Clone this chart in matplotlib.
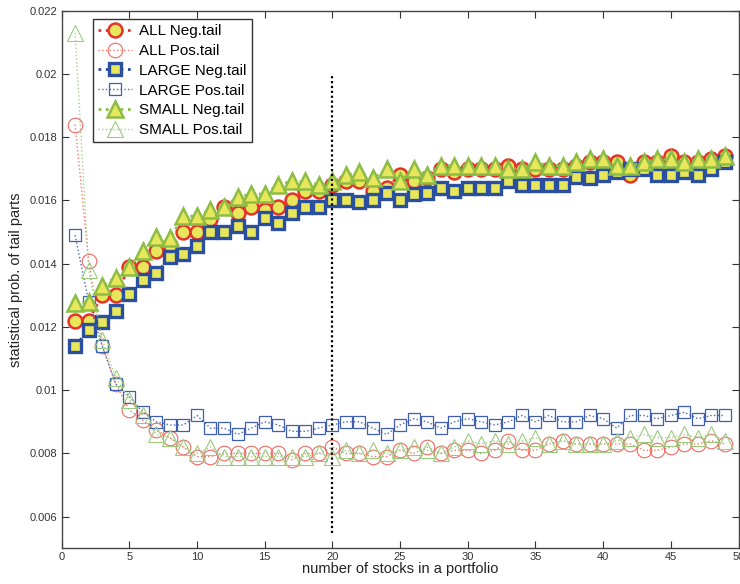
import matplotlib.pyplot as plt
import numpy as np

plt.rcParams['font.family'] = ['Liberation Sans', 'DejaVu Sans']

n_stocks = np.arange(1, 50)

all_neg = [0.0122, 0.0122, 0.0130, 0.0130, 0.0139, 0.0139, 0.0144, 0.0146, 0.0150, 0.0150,
           0.0154, 0.0158, 0.0156, 0.0158, 0.0157, 0.0158, 0.0160, 0.0163, 0.0163, 0.0165,
           0.0166, 0.0166, 0.0163, 0.0164, 0.0168, 0.0166, 0.0167, 0.0170, 0.0169, 0.0170,
           0.0170, 0.0170, 0.0171, 0.0170, 0.0170, 0.0170, 0.0170, 0.0171, 0.0172, 0.0172,
           0.0172, 0.0168, 0.0172, 0.0172, 0.0174, 0.0172, 0.0172, 0.0173, 0.0174]
all_pos = [0.0184, 0.0141, 0.0114, 0.0102, 0.00937, 0.00905, 0.00873, 0.0085, 0.0082, 0.0079,
           0.0079, 0.0080, 0.0080, 0.0080, 0.0080, 0.0080, 0.0078, 0.0080, 0.0080, 0.0082,
           0.0080, 0.0080, 0.0079, 0.0079, 0.0081, 0.0080, 0.0082, 0.0080, 0.0081, 0.0081,
           0.0080, 0.0081, 0.0084, 0.0081, 0.0081, 0.0083, 0.0084, 0.0083, 0.0083, 0.0083,
           0.0083, 0.0083, 0.0081, 0.0081, 0.0082, 0.0083, 0.0083, 0.0084, 0.0083]
large_neg = [0.0114, 0.0119, 0.01217, 0.0125, 0.01305, 0.0135, 0.0137, 0.0142, 0.0143, 0.01455,
             0.0150, 0.0150, 0.0152, 0.0150, 0.01545, 0.0153, 0.0156, 0.0158, 0.0158, 0.0160,
             0.0160, 0.01595, 0.0160, 0.01625, 0.0160, 0.0162, 0.01625, 0.0164, 0.0163, 0.0164,
             0.0164, 0.0164, 0.0166, 0.0165, 0.0165, 0.0165, 0.0165, 0.01675, 0.0167, 0.0168,
             0.0169, 0.0170, 0.0170, 0.0168, 0.0168, 0.0169, 0.0168, 0.0170, 0.0172]
large_pos = [0.0149, 0.0128, 0.0114, 0.0102, 0.0098, 0.0093, 0.0090, 0.0089, 0.0089, 0.0092,
             0.0088, 0.0088, 0.0086, 0.0088, 0.0090, 0.0089, 0.0087, 0.0087, 0.0088, 0.0089,
             0.0090, 0.0090, 0.0088, 0.0086, 0.0089, 0.0091, 0.0090, 0.0088, 0.0090, 0.0091,
             0.0090, 0.0089, 0.0090, 0.0092, 0.0090, 0.0092, 0.0090, 0.0090, 0.0092, 0.0091,
             0.0088, 0.0092, 0.0092, 0.0091, 0.0092, 0.0093, 0.0091, 0.0092, 0.0092]
small_neg = [0.01275, 0.0128, 0.0133, 0.01355, 0.0139, 0.0144, 0.01485, 0.0148, 0.0155, 0.0155,
             0.0157, 0.0158, 0.0161, 0.0162, 0.0162, 0.0165, 0.0166, 0.0166, 0.0165, 0.0166,
             0.0168, 0.0169, 0.0167, 0.0170, 0.0166, 0.0170, 0.0168, 0.0171, 0.0171, 0.0171,
             0.0171, 0.0171, 0.0170, 0.0170, 0.0172, 0.0171, 0.0171, 0.0172, 0.0173, 0.0173,
             0.0171, 0.0171, 0.0172, 0.0173, 0.0173, 0.0172, 0.0173, 0.0173, 0.0174]
small_pos = [0.0213, 0.0138, 0.0116, 0.0104, 0.0097, 0.0092, 0.0086, 0.0085, 0.0082, 0.0080,
             0.0082, 0.0079, 0.0079, 0.0079, 0.0079, 0.0079, 0.0079, 0.0079, 0.0080, 0.0079,
             0.0081, 0.0080, 0.0081, 0.0080, 0.0081, 0.0082, 0.0081, 0.0080, 0.0082, 0.0084,
             0.0083, 0.0084, 0.0083, 0.0084, 0.0085, 0.0083, 0.0084, 0.0083, 0.0083, 0.0083,
             0.0084, 0.0085, 0.0086, 0.0085, 0.0085, 0.0086, 0.0085, 0.0086, 0.0084]

cut_x = [20, 20]
cut_y = [0.0055, 0.0200]

red = '#e5332a'
blue = '#2a4f9e'
green = '#8cbd45'
yellow = '#e8e65a'

fig = plt.figure(figsize=(7.4, 5.84), dpi=100)
ax = fig.add_axes([0.0832, 0.0611, 0.9148, 0.9206])

ax.plot(n_stocks, all_neg, ':', color=red, lw=2, marker='o', ms=10,
        mfc=yellow, mec=red, mew=1.8, label='ALL Neg.tail')
ax.plot(n_stocks, all_pos, ':', color='#f07a72', lw=1, marker='o', ms=10.5,
        mfc='none', mec='#ef6a62', mew=0.8, label='ALL Pos.tail')
ax.plot(n_stocks, large_neg, ':', color=blue, lw=2, marker='s', ms=8.5,
        mfc=yellow, mec=blue, mew=2.4, label='LARGE Neg.tail')
ax.plot(n_stocks, large_pos, ':', color='#4a68b4', lw=1, marker='s', ms=8.5,
        mfc='none', mec='#3f5fae', mew=0.9, label='LARGE Pos.tail')
ax.plot(n_stocks, small_neg, ':', color=green, lw=2, marker='^', ms=11,
        mfc=yellow, mec=green, mew=1.8, label='SMALL Neg.tail')
ax.plot(n_stocks, small_pos, ':', color='#a6d08a', lw=1, marker='^', ms=11,
        mfc='none', mec='#9ccb7e', mew=0.8, label='SMALL Pos.tail')

ax.plot(cut_x, cut_y, color='black', lw=1.6, linestyle=(0, (1, 1.2)))

ax.set_xlim(0, 50)
ax.set_ylim(0.005, 0.022)
ax.set_xticks(np.arange(0, 51, 5))
ax.set_yticks([0.006, 0.008, 0.01, 0.012, 0.014, 0.016, 0.018, 0.02, 0.022])
ax.set_yticklabels(['0.006', '0.008', '0.01', '0.012', '0.014', '0.016', '0.018', '0.02', '0.022'])
ax.tick_params(direction='in', top=True, right=True, length=5, width=0.8,
               labelsize=8, colors='#333333', pad=3)
for s in ax.spines.values():
    s.set_color('#444444')
    s.set_linewidth(1)

ax.set_xlabel('number of stocks in a portfolio', fontsize=10.5, labelpad=0, color='#222222')
ax.set_ylabel('statistical prob. of tail parts', fontsize=10.5, labelpad=5, color='#222222')

leg = ax.legend(loc='upper left', bbox_to_anchor=(0.046, 0.985), borderaxespad=0,
                fontsize=11, frameon=True, fancybox=False, handlelength=2.2,
                labelspacing=0.38, borderpad=0.35, handletextpad=0.5, framealpha=1)
leg.get_frame().set_edgecolor('#333333')
leg.get_frame().set_linewidth(1)

fig.savefig('out.png', dpi=100)
